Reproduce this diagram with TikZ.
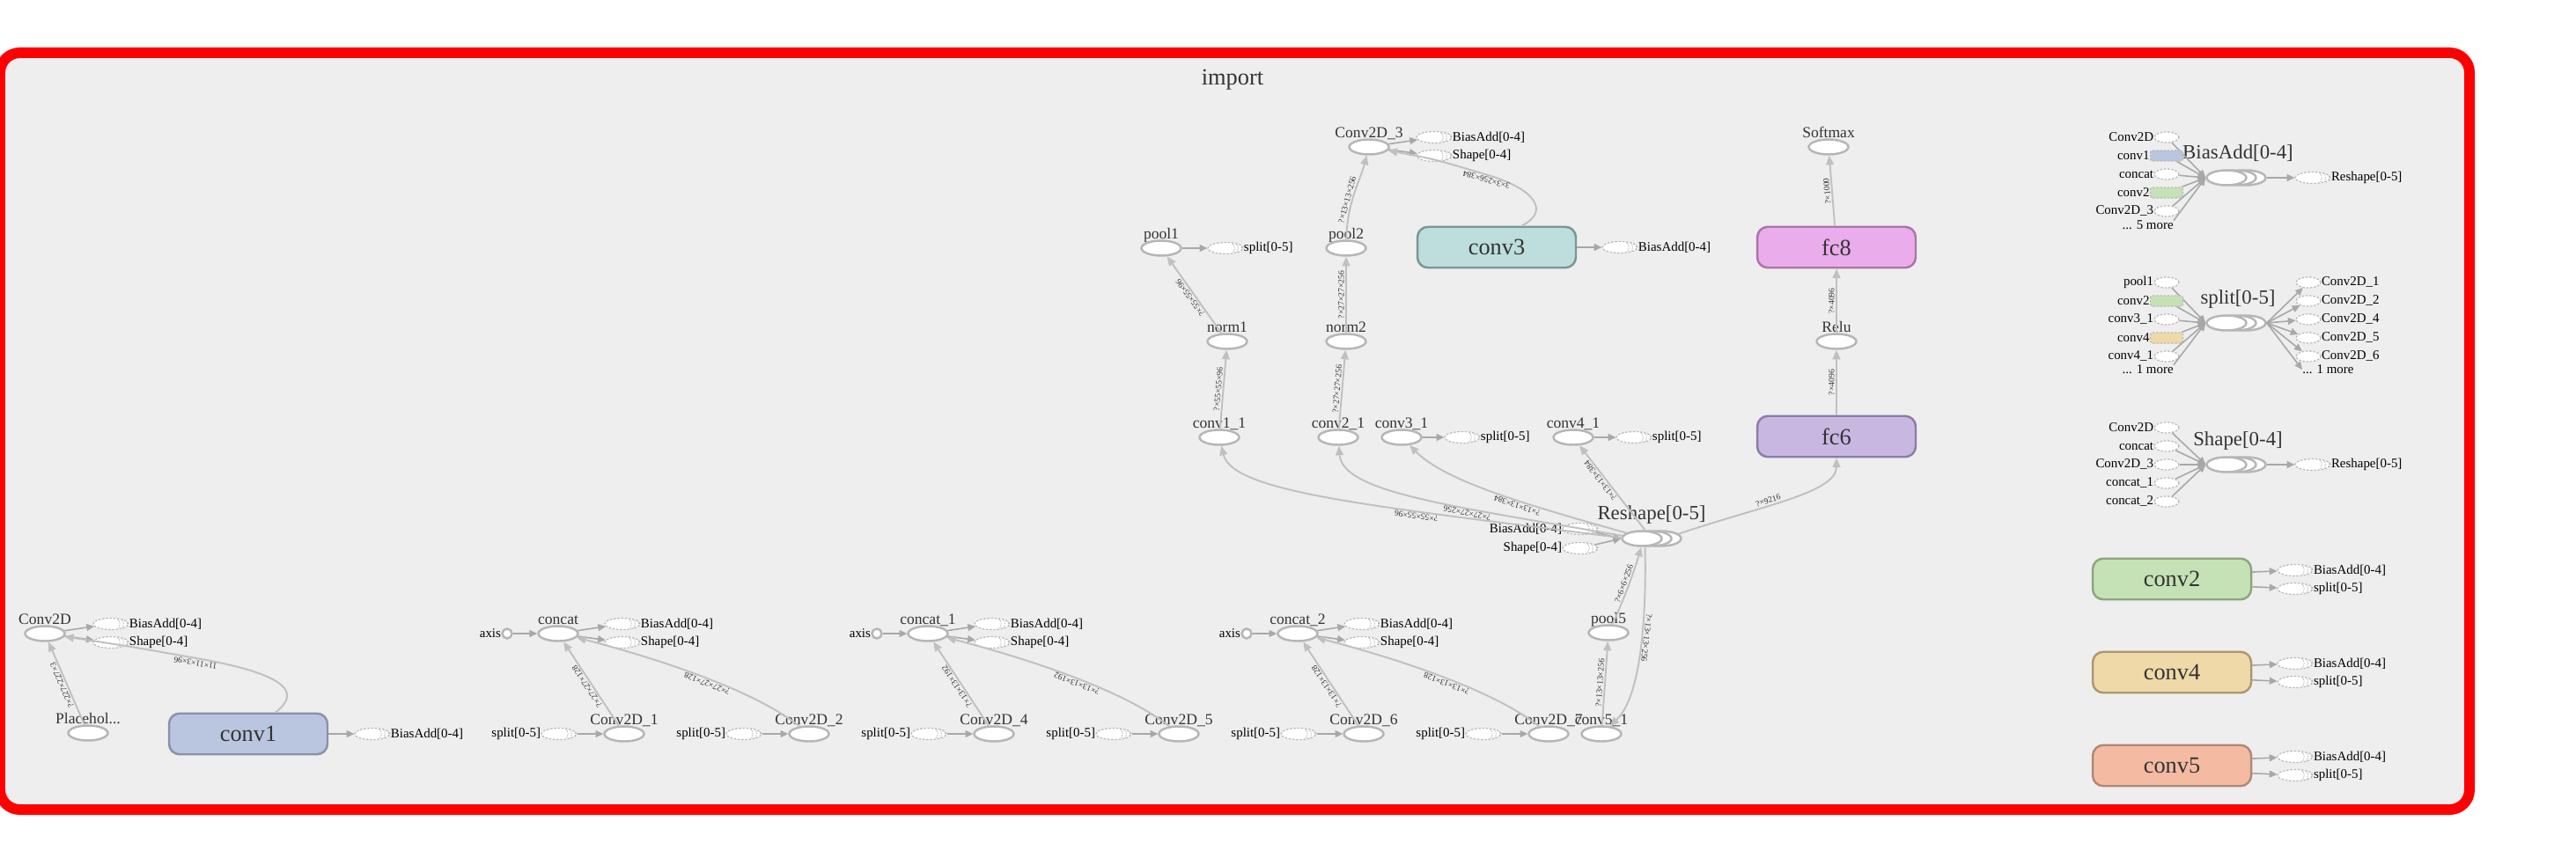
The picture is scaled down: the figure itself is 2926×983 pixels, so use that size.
\documentclass[tikz,border=0pt]{standalone}
\usepackage{fontspec}
\setmainfont{Liberation Serif}
\usepackage{tikz}
\usetikzlibrary{arrows.meta,shapes.geometric,positioning,calc}
\definecolor{tbBack}   {RGB}{238,238,238}
\definecolor{tbFrame}  {RGB}{255,0,0}
\definecolor{tbStroke} {RGB}{182,182,182}
\definecolor{tbEdge}   {RGB}{192,192,192}
\definecolor{tbArrow}  {RGB}{168,168,168}
\definecolor{tbAnnot}  {RGB}{185,185,185}
\definecolor{tbText}   {RGB}{51,51,51}
\definecolor{conv1Fill}{RGB}{186,198,223}
\definecolor{conv1Line}{RGB}{136,146,170}
\definecolor{conv2Fill}{RGB}{197,226,182}
\definecolor{conv2Line}{RGB}{140,164,128}
\definecolor{conv3Fill}{RGB}{190,221,221}
\definecolor{conv3Line}{RGB}{124,150,150}
\definecolor{conv4Fill}{RGB}{240,217,168}
\definecolor{conv4Line}{RGB}{172,152,112}
\definecolor{conv5Fill}{RGB}{244,187,162}
\definecolor{conv5Line}{RGB}{176,136,118}
\definecolor{fc6Fill}  {RGB}{200,183,225}
\definecolor{fc6Line}  {RGB}{140,124,168}
\definecolor{fc8Fill}  {RGB}{235,172,235}
\definecolor{fc8Line}  {RGB}{168,118,168}

\begin{document}
\begin{tikzpicture}[x=0.02cm,y=-0.02cm,
    op/.style={ellipse,draw=tbStroke,line width=1.4pt,fill=white,minimum width=0.9cm,
               minimum height=0.34cm,inner sep=0pt,label distance=4.7pt},
    opname/.style={font=\fontsize{10}{10}\selectfont,text=tbText,inner sep=0pt,text depth=0pt},
    sername/.style={font=\fontsize{13}{13}\selectfont,text=tbText,inner sep=0pt},
    meta/.style={rectangle,rounded corners=0.24cm,line width=1.4pt,minimum width=3.6cm,
                 minimum height=0.93cm,font=\fontsize{15}{15}\selectfont,text=tbText},
    annot/.style={ellipse,draw=tbAnnot,line width=0.7pt,dash pattern=on 1.4pt off 1pt,
                  fill=white,minimum width=0.8cm,minimum height=0.26cm,inner sep=0pt,
                  label distance=3.5pt,
                  path picture={\foreach \sx in {7,4.6,2.2}
                    \draw[tbAnnot,line width=0.5pt,dash pattern=on 0.8pt off 0.6pt]
                      ([xshift=-\sx pt,yshift=3pt]path picture bounding box.east)
                      arc[start angle=90,end angle=-90,x radius=1.4pt,y radius=3pt];}},
    inref/.style={draw=tbAnnot,line width=0.7pt,dash pattern=on 1.4pt off 1pt,
                  rounded corners=1.5pt,minimum height=0.24cm,inner sep=0pt,label distance=4pt},
    annlbl/.style={font=\fontsize{8.5}{10}\selectfont,inner sep=0pt},
    axisnode/.style={circle,draw=tbStroke,line width=1.4pt,fill=white,minimum size=0.22cm,
                     inner sep=0pt,label distance=4pt},
    dataedge/.style={draw=tbEdge,line width=1.1pt,-{Triangle[length=6pt,width=5pt]}},
    annarrow/.style={draw=tbArrow,line width=0.9pt,-{Triangle[length=5pt,width=4.5pt]}},
    shp/.style={font=\fontsize{5.5}{6}\selectfont,text=tbText,sloped,allow upside down,
                inner sep=0.8pt,above}]

    \useasboundingbox (0,0) rectangle (2926,983);

    % ── FRAME ──────────────────────────────────────────────
    \draw[tbFrame,line width=0.24cm,fill=tbBack,rounded corners=0.45cm] (0,60) rectangle (2805,920);
    \node[font=\fontsize{15}{15}\selectfont,text=tbText,anchor=base] (title) at (1400,97) {import};

    % ── INPUT + CONV1 ──────────────────────────────────────
    \node[op,label={[opname]above:Conv2D}] (conv2d) at (51,720) {};
    \node[annot,label={[annlbl]right:{BiasAdd[0-4]}}] (conv2d-ba) at (126,709) {};
    \node[annot,label={[annlbl]right:{Shape[0-4]}}] (conv2d-sh) at (126,730) {};
    \node[op,label={[opname]above:Placehol...}] (ph) at (100,833) {};
    \node[meta,fill=conv1Fill,draw=conv1Line] (conv1) at (282,834) {conv1};
    \node[annot,label={[annlbl]right:{BiasAdd[0-4]}}] (conv1-ba) at (423,834) {};
    \draw[annarrow] (conv2d) -- (conv2d-ba);
    \draw[annarrow] (conv2d) -- (conv2d-sh);
    \draw[annarrow] (conv1) -- (conv1-ba);
    \draw[dataedge] (ph) -- (conv2d) node[shp,midway]{?×227×227×3};
    \draw[dataedge] ([xshift=0.62cm]conv1.north) .. controls (345,785) and (320,765) .. (223,748)
      node[shp,pos=1]{11×11×3×96} .. controls (150,735) .. (conv2d);

    % ── CONCAT GROUPS ──────────────────────────────────────
    \foreach \g/\dx/\cname/\na/\nb/\dims in {0/0/concat/Conv2D\_1/Conv2D\_2/27×27×128,
        1/420/concat\_1/Conv2D\_4/Conv2D\_5/13×13×192,
        2/840/concat\_2/Conv2D\_6/Conv2D\_7/13×13×128}{
      \node[axisnode,label={[annlbl]left:axis}] (axis\g) at (576+\dx,720) {};
      \node[op,label={[opname]above:\cname}] (cat\g) at (634+\dx,720) {};
      \node[annot,label={[annlbl]right:{BiasAdd[0-4]}}] (catba\g) at (707+\dx,709) {};
      \node[annot,label={[annlbl]right:{Shape[0-4]}}] (catsh\g) at (707+\dx,730) {};
      \node[op,label={[opname]above:\na}] (ca\g) at (709+\dx,834) {};
      \node[op,label={[opname]above:\nb}] (cb\g) at (919+\dx,834) {};
      \node[annot,label={[annlbl]left:{split[0-5]}}] (spa\g) at (635+\dx,834) {};
      \node[annot,label={[annlbl]left:{split[0-5]}}] (spb\g) at (845+\dx,834) {};
      \draw[annarrow] (axis\g) -- (cat\g);
      \draw[annarrow] (cat\g) -- (catba\g);
      \draw[annarrow] (cat\g) -- (catsh\g);
      \draw[annarrow] (spa\g) -- (ca\g);
      \draw[annarrow] (spb\g) -- (cb\g);
      \draw[dataedge] (ca\g) -- (cat\g) node[shp,midway]{?×\dims};
      \draw[dataedge] (cb\g) .. controls (870+\dx,795) and (790+\dx,760) .. (cat\g.-12)
        node[shp,pos=0.55]{?×\dims};
    }
    \node[op,label={[opname]above:conv5\_1}] (c51) at (1819,834) {};
    \node[op,label={[opname]above:pool5}] (pool5) at (1827,719) {};

    % ── MIDDLE COLUMN ──────────────────────────────────────
    \node[op,label={[opname]above:pool1}] (pool1) at (1319,282) {};
    \node[annot,label={[annlbl]right:{split[0-5]}}] (pool1-sp) at (1392,282) {};
    \node[op,label={[opname]above:norm1}] (norm1) at (1394,388) {};
    \node[op,label={[opname]above:conv1\_1}] (c11) at (1385,497) {};
    \node[op,label={[opname]above:pool2}] (pool2) at (1529,282) {};
    \node[op,label={[opname]above:norm2}] (norm2) at (1529,388) {};
    \node[op,label={[opname]above:conv2\_1}] (c21) at (1520,497) {};
    \node[op,label={[opname]above:Conv2D\_3}] (c2d3) at (1555,167) {};
    \node[annot,label={[annlbl]right:{BiasAdd[0-4]}}] (c2d3-ba) at (1629,156) {};
    \node[annot,label={[annlbl]right:{Shape[0-4]}}] (c2d3-sh) at (1629,177) {};
    \node[meta,fill=conv3Fill,draw=conv3Line] (conv3) at (1700,281) {conv3};
    \node[annot,label={[annlbl]right:{BiasAdd[0-4]}}] (conv3-ba) at (1840,281) {};
    \node[op,label={[opname]above:conv3\_1}] (c31) at (1592,497) {};
    \node[annot,label={[annlbl]right:{split[0-5]}}] (c31-sp) at (1661,497) {};
    \node[op,label={[opname]above:conv4\_1}] (c41) at (1787,497) {};
    \node[annot,label={[annlbl]right:{split[0-5]}}] (c41-sp) at (1856,497) {};

    % series stacks
    \foreach \nm/\x/\y in {rs/1865/612, ba/2529/202, sp/2529/367, sh/2529/528}{
      \node[op] (\nm-3) at (\x+22,\y) {};
      \node[op] (\nm-2) at (\x+11,\y) {};
      \node[op] (\nm) at (\x,\y) {};
    }
    \node[sername,anchor=base] (rs-t) at (1876,590) {Reshape[0-5]};
    \node[annot,label={[annlbl]left:{BiasAdd[0-4]}}] (rs-ba) at (1795,601) {};
    \node[annot,label={[annlbl]left:{Shape[0-4]}}] (rs-sh) at (1795,623) {};

    % ── FC STACK ───────────────────────────────────────────
    \node[meta,fill=fc6Fill,draw=fc6Line] (fc6) at (2086,496) {fc6};
    \node[op,label={[opname]above:Relu}] (relu) at (2086,388) {};
    \node[meta,fill=fc8Fill,draw=fc8Line] (fc8) at (2086,281) {fc8};
    \node[op,label={[opname]above:Softmax}] (softmax) at (2077,167) {};

    \draw[annarrow] (pool1) -- (pool1-sp);
    \draw[annarrow] (c2d3) -- (c2d3-ba);
    \draw[annarrow] (c2d3) -- (c2d3-sh);
    \draw[annarrow] (conv3) -- (conv3-ba);
    \draw[annarrow] (c31) -- (c31-sp);
    \draw[annarrow] (c41) -- (c41-sp);
    \draw[annarrow] (rs-ba) -- (rs.west);
    \draw[annarrow] (rs-sh) -- (rs.west);

    \draw[dataedge] (c11) -- (norm1) node[shp,midway]{?×55×55×96};
    \draw[dataedge] (norm1) -- (pool1) node[shp,midway]{?×55×55×96};
    \draw[dataedge] (c21) -- (norm2) node[shp,midway]{?×27×27×256};
    \draw[dataedge] (norm2) -- (pool2) node[shp,midway]{?×27×27×256};
    \draw[dataedge] (pool2) .. controls (1530,230) and (1545,205) .. (c2d3)
      node[shp,pos=0.4]{?×13×13×256};
    \draw[dataedge] ([xshift=0.57cm]conv3.north) .. controls (1762,240) and (1742,214) .. (1690,199)
      node[shp,pos=1]{3×3×256×384} .. controls (1630,181) .. (c2d3);
    \draw[dataedge] (rs.178) .. controls (1560,575) and (1400,560) .. (c11)
      node[shp,pos=0.32]{?×55×55×96};
    \draw[dataedge] (rs.172) .. controls (1650,575) and (1525,560) .. (c21)
      node[shp,pos=0.35]{?×27×27×256};
    \draw[dataedge] (rs.160) .. controls (1720,570) and (1640,545) .. (c31)
      node[shp,pos=0.37]{?×13×13×384};
    \draw[dataedge] (rs.70) -- (c41) node[shp,pos=0.62]{?×13×13×384};
    \draw[dataedge] (rs-3.15) .. controls (2000,575) and (2086,560) .. (fc6.south)
      node[shp,pos=0.4]{?×9216};
    \draw[dataedge] (pool5) .. controls (1845,680) and (1856,650) .. (rs.-95)
      node[shp,midway]{?×6×6×256};
    \draw[dataedge] (rs.-70) .. controls (1870,690) and (1866,790) .. (c51)
      node[shp,pos=0.45]{?×13×13×256};
    \draw[dataedge] (c51) -- (pool5) node[shp,midway]{?×13×13×256};
    \draw[dataedge] (fc6) -- (relu) node[shp,midway]{?×4096};
    \draw[dataedge] (relu) -- (fc8) node[shp,midway]{?×4096};
    \draw[dataedge] (fc8) -- (softmax) node[shp,midway]{?×1000};

    % ── SERIES PANEL ───────────────────────────────────────
    \node[sername,anchor=base] (ba-t) at (2542,181) {BiasAdd[0-4]};
    \foreach \lbl/\y/\shp/\fc/\w in {Conv2D/156/ellipse/white/0.56cm,
        conv1/177/rectangle/conv1Fill/0.74cm, concat/198/ellipse/white/0.56cm,
        conv2/219/rectangle/conv2Fill/0.74cm, Conv2D\_3/240/ellipse/white/0.56cm}{
      \node[inref,shape=\shp,fill=\fc,minimum width=\w,label={[annlbl]left:\lbl}] (ba-\y) at (2461,\y) {};
      \draw[annarrow] (ba-\y) -- (ba.west);
    }
    \node[annlbl,anchor=east] (ba-more) at (2469,256) {... 5 more};
    \draw[annarrow] (ba-more.north east) -- (ba.west);
    \node[annot,label={[annlbl]right:{Reshape[0-5]}}] (ba-out) at (2627,202) {};
    \draw[annarrow] (ba-3) -- (ba-out);

    \node[sername,anchor=base] (sp-t) at (2542,345) {split[0-5]};
    \foreach \lbl/\y/\shp/\fc/\w in {pool1/321/ellipse/white/0.56cm,
        conv2/342/rectangle/conv2Fill/0.74cm, conv3\_1/363/ellipse/white/0.56cm,
        conv4/384/rectangle/conv4Fill/0.74cm, conv4\_1/405/ellipse/white/0.56cm}{
      \node[inref,shape=\shp,fill=\fc,minimum width=\w,label={[annlbl]left:\lbl}] (sp-\y) at (2461,\y) {};
      \draw[annarrow] (sp-\y) -- (sp.west);
    }
    \node[annlbl,anchor=east] (sp-more) at (2469,420) {... 1 more};
    \draw[annarrow] (sp-more.north east) -- (sp.west);
    \foreach \lbl/\y in {Conv2D\_1/321, Conv2D\_2/342, Conv2D\_4/363, Conv2D\_5/384, Conv2D\_6/405}{
      \node[inref,ellipse,fill=white,minimum width=0.56cm,label={[annlbl]right:\lbl}] (spo-\y) at (2622,\y) {};
      \draw[annarrow] (sp-3.east) -- (spo-\y);
    }
    \node[annlbl,anchor=west] (spo-more) at (2615,420) {... 1 more};
    \draw[annarrow] (sp-3.east) -- (spo-more.west);

    \node[sername,anchor=base] (sh-t) at (2542,506) {Shape[0-4]};
    \foreach \lbl/\y in {Conv2D/486, concat/507, Conv2D\_3/528, concat\_1/549, concat\_2/570}{
      \node[inref,ellipse,fill=white,minimum width=0.56cm,label={[annlbl]left:\lbl}] (sh-\y) at (2461,\y) {};
      \draw[annarrow] (sh-\y) -- (sh.west);
    }
    \node[annot,label={[annlbl]right:{Reshape[0-5]}}] (sh-out) at (2627,528) {};
    \draw[annarrow] (sh-3) -- (sh-out);

    % ── UNCONNECTED METANODES ──────────────────────────────
    \foreach \nm/\y/\fc/\lc in {conv2/658/conv2Fill/conv2Line, conv4/764/conv4Fill/conv4Line,
        conv5/870/conv5Fill/conv5Line}{
      \node[meta,fill=\fc,draw=\lc] (\nm) at (2467,\y) {\nm};
      \node[annot,label={[annlbl]right:{BiasAdd[0-4]}}] (\nm-ba) at (2607,\y-10) {};
      \node[annot,label={[annlbl]right:{split[0-5]}}] (\nm-sp) at (2607,\y+11) {};
      \draw[annarrow] ([yshift=4.5pt]\nm.east) -- (\nm-ba);
      \draw[annarrow] ([yshift=-5pt]\nm.east) -- (\nm-sp);
    }

\end{tikzpicture}
\end{document}
